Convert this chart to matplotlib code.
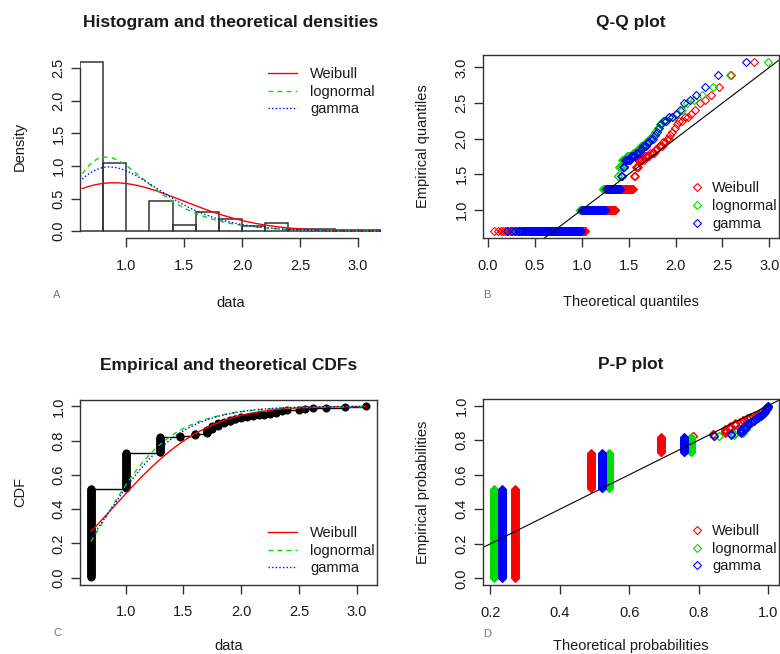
import math
import numpy as np
import matplotlib
matplotlib.use("Agg")
import matplotlib.pyplot as plt
from matplotlib.ticker import FormatStrFormatter

plt.rcParams['font.family'] = ['Liberation Sans', 'DejaVu Sans']
plt.rcParams['font.size'] = 10

# distinct observed values and how often each occurs (n = 250)
values = [0.7, 1.0, 1.3, 1.47, 1.6, 1.7, 1.75, 1.8, 1.85, 1.9, 1.95, 2.0,
          2.05, 2.1, 2.15, 2.2, 2.25, 2.3, 2.35, 2.4, 2.5, 2.55, 2.62, 2.73,
          2.9, 3.08]
counts = [130, 52, 23, 2, 3, 6, 5, 4, 2, 3, 2, 2,
          1, 1, 1, 1, 2, 2, 1, 1, 1, 1, 1, 1,
          1, 1]

# fitted parameters
weib_shape, weib_scale = 2.13, 1.204
lnorm_meanlog, lnorm_sdlog = -0.04, 0.394
gamma_shape, gamma_rate = 5.6, 5.4

dist_names = ['Weibull', 'lognormal', 'gamma']
dist_colors = ['#ff0000', '#00dd00', '#0000ff']
dist_dashes = [None, (3.5, 3), (1, 1.6)]

TXT = '#1a1a1a'
AX = '#333333'

data = np.repeat(values, counts)
n = len(data)
pp = (np.arange(1, n + 1) - 0.5) / n

erf = np.vectorize(math.erf)


def weib_pdf(x):
    z = x / weib_scale
    return weib_shape / weib_scale * z ** (weib_shape - 1) * np.exp(-z ** weib_shape)


def weib_cdf(x):
    return 1 - np.exp(-(x / weib_scale) ** weib_shape)


def lnorm_pdf(x):
    z = (np.log(x) - lnorm_meanlog) / lnorm_sdlog
    return np.exp(-0.5 * z * z) / (x * lnorm_sdlog * math.sqrt(2 * math.pi))


def lnorm_cdf(x):
    z = (np.log(x) - lnorm_meanlog) / lnorm_sdlog
    return 0.5 * (1 + erf(z / math.sqrt(2)))


def gamma_pdf(x):
    a, b = gamma_shape, gamma_rate
    return np.exp(a * math.log(b) + (a - 1) * np.log(x) - b * x - math.lgamma(a))


def gamma_cdf(x):
    a = gamma_shape
    t = gamma_rate * np.asarray(x, dtype=float)
    term = np.full_like(t, 1.0 / a)
    total = term.copy()
    for k in range(1, 300):
        term = term * t / (a + k)
        total = total + term
    return np.clip(total * np.exp(a * np.log(t) - t - math.lgamma(a)), 0, 1)


def quantile(cdf, p):
    lo = np.full_like(p, 1e-6)
    hi = np.full_like(p, 20.0)
    for _ in range(80):
        mid = 0.5 * (lo + hi)
        below = cdf(mid) < p
        lo = np.where(below, mid, lo)
        hi = np.where(below, hi, mid)
    return 0.5 * (lo + hi)


pdfs = [weib_pdf, lnorm_pdf, gamma_pdf]
cdfs = [weib_cdf, lnorm_cdf, gamma_cdf]


def rlim(v):
    lo, hi = float(np.min(v)), float(np.max(v))
    d = 0.04 * (hi - lo)
    return lo - d, hi + d


def r_axes(ax, box=True):
    for s in ax.spines.values():
        s.set_color(AX)
        s.set_linewidth(1.0)
        s.set_visible(box)
    ax.tick_params(direction='out', length=6.5, width=1.0, color=AX,
                   labelcolor=TXT, labelsize=10.5)
    ax.tick_params(axis='x', pad=8.5)
    ax.tick_params(axis='y', pad=4, labelrotation=90)
    for lb in ax.get_yticklabels():
        lb.set_va('center')
    ax.xaxis.set_major_formatter(FormatStrFormatter('%.1f'))
    ax.yaxis.set_major_formatter(FormatStrFormatter('%.1f'))


def title(ax, text, frac):
    ax.text(0.5, 1 + frac, text, transform=ax.transAxes, ha='center',
            va='center', fontsize=12.5, fontweight='bold', color=TXT)


def legend(ax, anchor, lines):
    kw = dict(handlelength=2.0, handletextpad=0.9) if lines else \
        dict(handlelength=1.0, handletextpad=0.5)
    ax.legend(loc='lower left', bbox_to_anchor=anchor, frameon=False,
              borderpad=0, borderaxespad=0, labelspacing=0.25, fontsize=10.5,
              labelcolor=TXT, **kw)


fig = plt.figure(figsize=(7.8, 6.54), dpi=100)
W, H = 780.0, 654.0
axA = fig.add_axes([80 / W, 416 / H, 301 / W, 183 / H])
axB = fig.add_axes([483 / W, 416 / H, 296 / W, 183 / H])
axC = fig.add_axes([80 / W, 69.5 / H, 297 / W, 185 / H])
axD = fig.add_axes([483 / W, 69 / H, 296 / W, 186 / H])

# ---- A: histogram and densities
edges = np.round(np.arange(0.6, 3.21, 0.2), 10)
bin_idx = np.searchsorted(edges, data, side='left') - 1
hcounts = np.bincount(bin_idx, minlength=len(edges) - 1)
dens = hcounts / (n * np.diff(edges))
axA.bar(edges[:-1], dens, width=np.diff(edges), align='edge', fill=False,
        edgecolor=AX, linewidth=1.1)
xs = np.linspace(0.62, 3.2, 300)
for f, c, d, name in zip(pdfs, dist_colors, dist_dashes, dist_names):
    ln, = axA.plot(xs, f(xs), color=c, lw=1.0, label=name)
    if d:
        ln.set_dashes(d)
axA.set_xlim(edges[0], edges[-1])
ymax = dens.max()
axA.set_ylim(-0.04 * ymax, 1.04 * ymax)
axA.set_xticks(np.arange(1.0, 3.01, 0.5))
axA.set_yticks(np.arange(0, 2.51, 0.5))
r_axes(axA, box=False)
axA.spines['left'].set_visible(True)
axA.spines['bottom'].set_visible(True)
axA.spines['left'].set_bounds(0, 2.5)
axA.spines['bottom'].set_bounds(1.0, 3.0)
axA.set_xlabel('data', color=TXT, fontsize=10.5)
axA.set_ylabel('Density', color=TXT, fontsize=10.5)
title(axA, 'Histogram and theoretical densities', 33 / 183)
legend(axA, (0.625, 0.665), True)

# ---- B: Q-Q plot
sdata = np.sort(data)
qq_x = []
for cdf, c, name in zip(cdfs, dist_colors, dist_names):
    q = quantile(cdf, pp)
    qq_x.append(q)
    axB.plot(q, sdata, linestyle='none', marker='D', ms=4.0, mfc='none',
             mec=c, mew=0.8, label=name)
axB.axline((0, 0), slope=1, color='black', lw=0.8)
axB.set_xlim(*rlim(np.concatenate(qq_x)))
axB.set_ylim(*rlim(sdata))
axB.set_xticks(np.arange(0, 3.01, 0.5))
axB.set_yticks(np.arange(1.0, 3.01, 0.5))
r_axes(axB)
axB.set_xlabel('Theoretical quantiles', color=TXT, fontsize=10.5)
axB.set_ylabel('Empirical quantiles', color=TXT, fontsize=10.5)
title(axB, 'Q-Q plot', 33 / 183)
legend(axB, (0.70, 0.04), False)

# ---- C: empirical and theoretical CDFs
ux = np.array(values)
ecdf = np.cumsum(counts) / n
axC.hlines(ecdf[:-1], ux[:-1], ux[1:], color='black', lw=1.0)
axC.plot(sdata, np.arange(1, n + 1) / n, 'o', color='black', ms=4.8)
xc = np.linspace(sdata[0], sdata[-1], 300)
for f, c, d, name in zip(cdfs, dist_colors, dist_dashes, dist_names):
    ln, = axC.plot(xc, f(xc), color=c, lw=1.0, label=name)
    if d:
        ln.set_dashes(d)
axC.set_xlim(*rlim(sdata))
axC.set_ylim(-0.04, 1.04)
axC.set_xticks(np.arange(1.0, 3.01, 0.5))
axC.set_yticks(np.arange(0, 1.01, 0.2))
r_axes(axC)
axC.set_xlabel('data', color=TXT, fontsize=10.5)
axC.set_ylabel('CDF', color=TXT, fontsize=10.5)
title(axC, 'Empirical and theoretical CDFs', 34 / 185)
legend(axC, (0.633, 0.05), True)

# ---- D: P-P plot
pp_x = []
for cdf, c, name in zip(cdfs, dist_colors, dist_names):
    p = cdf(sdata)
    pp_x.append(p)
    axD.plot(p, pp, linestyle='none', marker='D', ms=4.0, mfc='none',
             mec=c, mew=0.8, label=name)
axD.axline((0, 0), slope=1, color='black', lw=0.8)
axD.set_xlim(*rlim(np.concatenate(pp_x)))
axD.set_ylim(*rlim(pp))
axD.set_xticks(np.arange(0.2, 1.01, 0.2))
axD.set_yticks(np.arange(0, 1.01, 0.2))
r_axes(axD)
axD.set_xlabel('Theoretical probabilities', color=TXT, fontsize=10.5)
axD.set_ylabel('Empirical probabilities', color=TXT, fontsize=10.5)
title(axD, 'P-P plot', 34 / 186)
legend(axD, (0.70, 0.062), False)

# axis label positions (R-like margins)
axA.xaxis.set_label_coords(0.5, -65 / 183)
axA.yaxis.set_label_coords(-60 / 301, 0.5)
axB.xaxis.set_label_coords(0.5, -64 / 183)
axB.yaxis.set_label_coords(-60 / 296, 0.5)
axC.xaxis.set_label_coords(0.5, -61 / 185)
axC.yaxis.set_label_coords(-60 / 297, 0.5)
axD.xaxis.set_label_coords(0.5, -61 / 186)
axD.yaxis.set_label_coords(-60 / 296, 0.5)
for ax in (axA, axB, axC, axD):
    ax.xaxis.label.set_va('center')
    ax.yaxis.label.set_va('center')

# panel letters
for lab, px, py in [('A', 57, 295), ('B', 487, 295), ('C', 57, 633), ('D', 487, 634)]:
    fig.text(px / W, 1 - py / H, lab, ha='center', va='center', fontsize=8,
             color='#777777')

fig.savefig('out.png', dpi=100)
